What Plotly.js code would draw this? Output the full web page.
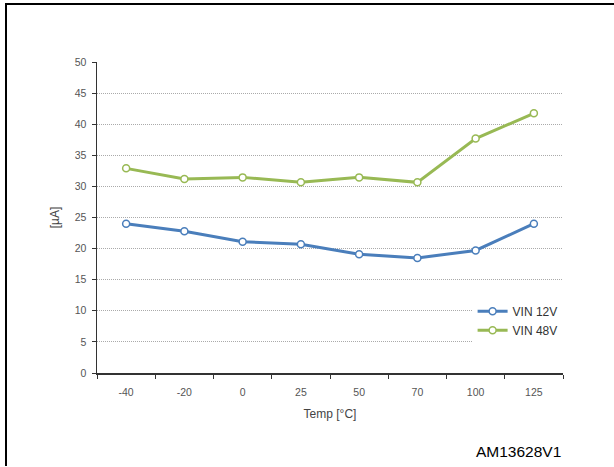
<!DOCTYPE html>
<html>
<head>
<meta charset="utf-8">
<script src="https://cdn.plot.ly/plotly-3.0.1.min.js"></script>
<style>
  body { margin: 0; background: #fff; }
  #wrap { position: relative; width: 614px; height: 467px; overflow: hidden; }
  #chart { position: absolute; left: 0; top: 0; width: 614px; height: 467px; }
  #bt { position: absolute; left: 5px; top: 3px; width: 609px; height: 2px; background: #000; }
  #bl { position: absolute; left: 5px; top: 3px; width: 2px; height: 463px; background: #000; }
</style>
</head>
<body>
<div id="wrap">
  <div id="chart"></div>
  <div id="bt"></div>
  <div id="bl"></div>
</div>
<script>
const categories = ["-40", "-20", "0", "25", "50", "70", "100", "125"];
const vin12 = [24.0, 22.8, 21.1, 20.7, 19.1, 18.5, 19.7, 24.0];
const vin48 = [32.9, 31.2, 31.45, 30.65, 31.45, 30.65, 37.7, 41.75];
const seriesNames = ["VIN 12V", "VIN 48V"];
const yTicks = [0, 5, 10, 15, 20, 25, 30, 35, 40, 45, 50];

const font = "Liberation Sans, Arial, sans-serif";

function trace(name, y, color) {
  return {
    type: "scatter", mode: "lines+markers", name: name,
    x: categories, y: y,
    line: { color: color, width: 3 },
    marker: { symbol: "circle", size: 7, color: "#ffffff", line: { color: color, width: 1.5 } }
  };
}

const data = [
  trace(seriesNames[0], vin12, "#4a7ebb"),
  trace(seriesNames[1], vin48, "#98b954")
];

const layout = {
  width: 614, height: 467,
  margin: { l: 97, r: 51, t: 62, b: 94 },
  paper_bgcolor: "#ffffff", plot_bgcolor: "#ffffff",
  font: { family: font, size: 10, color: "#555555" },
  showlegend: true,
  legend: {
    x: 0.806, xanchor: "left", y: 0.245, yanchor: "top",
    bgcolor: "#ffffff", borderwidth: 0,
    font: { family: font, size: 12, color: "#333333" },
    tracegroupgap: 0, itemwidth: 30
  },
  xaxis: {
    type: "category", range: [-0.5, 7.5],
    showgrid: false, zeroline: false,
    showline: true, linecolor: "#333333", linewidth: 1.5,
    ticks: "outside", tickson: "boundaries", ticklen: 4, tickcolor: "#333333",
    ticklabelstandoff: 9,
    tickfont: { family: font, size: 10.5, color: "#555555" },
    title: { text: "Temp [°C]", font: { family: font, size: 12, color: "#444444" }, standoff: 12 }
  },
  yaxis: {
    range: [0, 50], tickvals: yTicks,
    showgrid: true, gridcolor: "#aaaaaa", griddash: "1px,1px", gridwidth: 1,
    zeroline: false,
    showline: true, linecolor: "#333333", linewidth: 1.5,
    ticks: "outside", ticklen: 4, tickcolor: "#333333",
    ticklabelstandoff: 3,
    tickfont: { family: font, size: 10.5, color: "#555555" },
    title: { text: "[µA]", font: { family: font, size: 12, color: "#444444" }, standoff: 12 }
  },
  annotations: [{
    text: "AM13628V1", xref: "paper", yref: "paper",
    x: 1.0, xanchor: "right", y: -0.254, yanchor: "middle",
    showarrow: false, font: { family: font, size: 15.5, color: "#000000" }
  }]
};

Plotly.newPlot("chart", data, layout, { displayModeBar: false, staticPlot: true });
</script>
</body>
</html>
